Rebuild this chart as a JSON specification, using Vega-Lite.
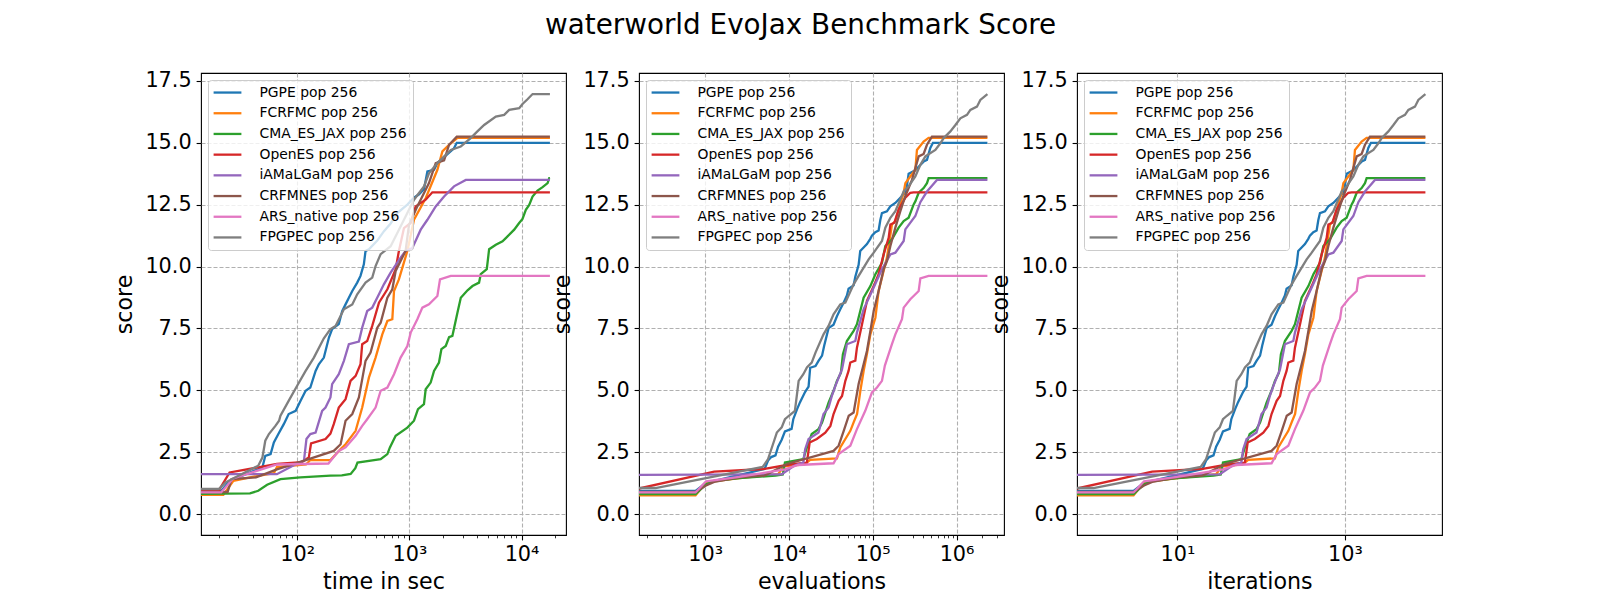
{
"$schema": "https://vega.github.io/schema/vega-lite/v6.json",
"background": "white",
"padding": {"left": 112, "top": 11, "right": 10, "bottom": 5},
"title": {"text": "waterworld EvoJax Benchmark Score", "font": "DejaVu Sans", "fontSize": 27.8, "fontWeight": "normal", "color": "black", "anchor": "start", "frame": "group", "dx": 344, "offset": 30},
"spacing": 73,
"bounds": "flush",
"resolve": {"scale": {"color": "independent"}, "legend": {"color": "independent"}},
"config": {
  "font": "DejaVu Sans",
  "view": {"stroke": "black", "strokeWidth": 1.1},
  "axis": {"domain": false, "labelFont": "DejaVu Sans", "labelFontSize": 20.8, "labelColor": "black", "titleFont": "DejaVu Sans", "titleFontSize": 22.2, "titleFontWeight": "normal", "titleColor": "black", "tickColor": "black", "tickWidth": 1.1, "tickSize": 4.9, "labelPadding": 4.9, "gridColor": "#b0b0b0", "gridDash": [4, 2], "gridWidth": 1.1, "grid": true, "labelOverlap": false, "labelFlush": false, "titlePadding": 6},
  "legend": {"orient": "top-left", "offset": 6.5, "symbolType": "M-2.78,0H2.78", "symbolSize": 100, "symbolOffset": 6.95, "symbolStrokeWidth": 2.3, "labelFont": "DejaVu Sans", "labelFontSize": 13.9, "labelColor": "black", "labelOffset": 25, "rowPadding": 5.7, "padding": 5.6, "fillColor": "rgba(255,255,255,0.8)", "strokeColor": "#cccccc", "cornerRadius": 3, "labelLimit": 400}
},
"datasets": {
"times": [
{"algo":"PGPE pop 256","time":10,"score":0.93},{"algo":"PGPE pop 256","time":21,"score":0.93},{"algo":"PGPE pop 256","time":25,"score":1.34},{"algo":"PGPE pop 256","time":49,"score":1.88},{"algo":"PGPE pop 256","time":52,"score":2.35},{"algo":"PGPE pop 256","time":58,"score":2.42},{"algo":"PGPE pop 256","time":62,"score":2.89},{"algo":"PGPE pop 256","time":68,"score":3.23},{"algo":"PGPE pop 256","time":76,"score":3.63},{"algo":"PGPE pop 256","time":84,"score":4.04},{"algo":"PGPE pop 256","time":97,"score":4.17},{"algo":"PGPE pop 256","time":107,"score":4.57},{"algo":"PGPE pop 256","time":119,"score":4.98},{"algo":"PGPE pop 256","time":131,"score":5.11},{"algo":"PGPE pop 256","time":146,"score":5.78},{"algo":"PGPE pop 256","time":156,"score":6.05},{"algo":"PGPE pop 256","time":173,"score":6.32},{"algo":"PGPE pop 256","time":192,"score":7.13},{"algo":"PGPE pop 256","time":205,"score":7.47},{"algo":"PGPE pop 256","time":235,"score":7.67},{"algo":"PGPE pop 256","time":252,"score":8.2},{"algo":"PGPE pop 256","time":270,"score":8.47},{"algo":"PGPE pop 256","time":289,"score":8.74},{"algo":"PGPE pop 256","time":310,"score":9.01},{"algo":"PGPE pop 256","time":343,"score":9.35},{"algo":"PGPE pop 256","time":367,"score":9.62},{"algo":"PGPE pop 256","time":393,"score":10.09},{"algo":"PGPE pop 256","time":407,"score":10.63},{"algo":"PGPE pop 256","time":436,"score":10.7},{"algo":"PGPE pop 256","time":518,"score":11.05},{"algo":"PGPE pop 256","time":594,"score":11.43},{"algo":"PGPE pop 256","time":681,"score":11.74},{"algo":"PGPE pop 256","time":781,"score":12.16},{"algo":"PGPE pop 256","time":960,"score":12.5},{"algo":"PGPE pop 256","time":1101,"score":12.78},{"algo":"PGPE pop 256","time":1220,"score":12.92},{"algo":"PGPE pop 256","time":1352,"score":13.13},{"algo":"PGPE pop 256","time":1448,"score":13.84},{"algo":"PGPE pop 256","time":1660,"score":13.91},{"algo":"PGPE pop 256","time":1778,"score":14.18},{"algo":"PGPE pop 256","time":2500,"score":14.78},{"algo":"PGPE pop 256","time":2645,"score":15.0},{"algo":"PGPE pop 256","time":17900,"score":15.0},
{"algo":"FCRFMC pop 256","time":10,"score":0.77},{"algo":"FCRFMC pop 256","time":22,"score":0.77},{"algo":"FCRFMC pop 256","time":27,"score":1.34},{"algo":"FCRFMC pop 256","time":40,"score":1.5},{"algo":"FCRFMC pop 256","time":62,"score":1.65},{"algo":"FCRFMC pop 256","time":66,"score":1.9},{"algo":"FCRFMC pop 256","time":120,"score":2.0},{"algo":"FCRFMC pop 256","time":131,"score":2.18},{"algo":"FCRFMC pop 256","time":198,"score":2.18},{"algo":"FCRFMC pop 256","time":244,"score":2.62},{"algo":"FCRFMC pop 256","time":270,"score":2.82},{"algo":"FCRFMC pop 256","time":332,"score":3.36},{"algo":"FCRFMC pop 256","time":380,"score":4.3},{"algo":"FCRFMC pop 256","time":436,"score":5.51},{"algo":"FCRFMC pop 256","time":500,"score":6.32},{"algo":"FCRFMC pop 256","time":574,"score":7.26},{"algo":"FCRFMC pop 256","time":637,"score":7.8},{"algo":"FCRFMC pop 256","time":705,"score":7.87},{"algo":"FCRFMC pop 256","time":730,"score":9.01},{"algo":"FCRFMC pop 256","time":807,"score":9.48},{"algo":"FCRFMC pop 256","time":960,"score":10.63},{"algo":"FCRFMC pop 256","time":1100,"score":11.89},{"algo":"FCRFMC pop 256","time":1398,"score":12.76},{"algo":"FCRFMC pop 256","time":1778,"score":13.91},{"algo":"FCRFMC pop 256","time":1970,"score":14.65},{"algo":"FCRFMC pop 256","time":2260,"score":14.92},{"algo":"FCRFMC pop 256","time":2685,"score":15.2},{"algo":"FCRFMC pop 256","time":17900,"score":15.2},
{"algo":"CMA_ES_JAX pop 256","time":10,"score":0.81},{"algo":"CMA_ES_JAX pop 256","time":38,"score":0.83},{"algo":"CMA_ES_JAX pop 256","time":45,"score":0.94},{"algo":"CMA_ES_JAX pop 256","time":54,"score":1.18},{"algo":"CMA_ES_JAX pop 256","time":71,"score":1.41},{"algo":"CMA_ES_JAX pop 256","time":107,"score":1.48},{"algo":"CMA_ES_JAX pop 256","time":198,"score":1.55},{"algo":"CMA_ES_JAX pop 256","time":250,"score":1.56},{"algo":"CMA_ES_JAX pop 256","time":300,"score":1.62},{"algo":"CMA_ES_JAX pop 256","time":330,"score":1.85},{"algo":"CMA_ES_JAX pop 256","time":345,"score":2.08},{"algo":"CMA_ES_JAX pop 256","time":520,"score":2.2},{"algo":"CMA_ES_JAX pop 256","time":555,"score":2.22},{"algo":"CMA_ES_JAX pop 256","time":637,"score":2.42},{"algo":"CMA_ES_JAX pop 256","time":671,"score":2.69},{"algo":"CMA_ES_JAX pop 256","time":755,"score":3.16},{"algo":"CMA_ES_JAX pop 256","time":960,"score":3.49},{"algo":"CMA_ES_JAX pop 256","time":1100,"score":3.77},{"algo":"CMA_ES_JAX pop 256","time":1194,"score":4.24},{"algo":"CMA_ES_JAX pop 256","time":1350,"score":4.44},{"algo":"CMA_ES_JAX pop 256","time":1398,"score":5.04},{"algo":"CMA_ES_JAX pop 256","time":1549,"score":5.31},{"algo":"CMA_ES_JAX pop 256","time":1660,"score":5.78},{"algo":"CMA_ES_JAX pop 256","time":1837,"score":6.12},{"algo":"CMA_ES_JAX pop 256","time":1930,"score":6.66},{"algo":"CMA_ES_JAX pop 256","time":2110,"score":6.79},{"algo":"CMA_ES_JAX pop 256","time":2260,"score":7.15},{"algo":"CMA_ES_JAX pop 256","time":2420,"score":7.2},{"algo":"CMA_ES_JAX pop 256","time":2685,"score":8.14},{"algo":"CMA_ES_JAX pop 256","time":2874,"score":8.74},{"algo":"CMA_ES_JAX pop 256","time":3300,"score":9.04},{"algo":"CMA_ES_JAX pop 256","time":3653,"score":9.21},{"algo":"CMA_ES_JAX pop 256","time":4180,"score":9.35},{"algo":"CMA_ES_JAX pop 256","time":4330,"score":9.69},{"algo":"CMA_ES_JAX pop 256","time":4900,"score":9.89},{"algo":"CMA_ES_JAX pop 256","time":5140,"score":10.7},{"algo":"CMA_ES_JAX pop 256","time":5900,"score":10.88},{"algo":"CMA_ES_JAX pop 256","time":6770,"score":11.02},{"algo":"CMA_ES_JAX pop 256","time":7240,"score":11.15},{"algo":"CMA_ES_JAX pop 256","time":8600,"score":11.49},{"algo":"CMA_ES_JAX pop 256","time":9520,"score":11.76},{"algo":"CMA_ES_JAX pop 256","time":10200,"score":11.92},{"algo":"CMA_ES_JAX pop 256","time":10920,"score":12.29},{"algo":"CMA_ES_JAX pop 256","time":11700,"score":12.49},{"algo":"CMA_ES_JAX pop 256","time":12530,"score":12.83},{"algo":"CMA_ES_JAX pop 256","time":13890,"score":13.07},{"algo":"CMA_ES_JAX pop 256","time":15400,"score":13.21},{"algo":"CMA_ES_JAX pop 256","time":17070,"score":13.37},{"algo":"CMA_ES_JAX pop 256","time":17650,"score":13.57},{"algo":"CMA_ES_JAX pop 256","time":17900,"score":13.57},
{"algo":"OpenES pop 256","time":10,"score":0.95},{"algo":"OpenES pop 256","time":20,"score":0.95},{"algo":"OpenES pop 256","time":25,"score":1.68},{"algo":"OpenES pop 256","time":66,"score":2.02},{"algo":"OpenES pop 256","time":110,"score":2.1},{"algo":"OpenES pop 256","time":127,"score":2.28},{"algo":"OpenES pop 256","time":133,"score":2.85},{"algo":"OpenES pop 256","time":179,"score":3.03},{"algo":"OpenES pop 256","time":198,"score":3.25},{"algo":"OpenES pop 256","time":212,"score":3.63},{"algo":"OpenES pop 256","time":235,"score":4.3},{"algo":"OpenES pop 256","time":270,"score":4.64},{"algo":"OpenES pop 256","time":299,"score":5.38},{"algo":"OpenES pop 256","time":332,"score":5.58},{"algo":"OpenES pop 256","time":367,"score":6.05},{"algo":"OpenES pop 256","time":380,"score":6.86},{"algo":"OpenES pop 256","time":421,"score":6.99},{"algo":"OpenES pop 256","time":467,"score":7.6},{"algo":"OpenES pop 256","time":536,"score":8.54},{"algo":"OpenES pop 256","time":637,"score":9.08},{"algo":"OpenES pop 256","time":755,"score":9.89},{"algo":"OpenES pop 256","time":807,"score":10.63},{"algo":"OpenES pop 256","time":895,"score":11.55},{"algo":"OpenES pop 256","time":1028,"score":11.76},{"algo":"OpenES pop 256","time":1138,"score":12.43},{"algo":"OpenES pop 256","time":1398,"score":12.7},{"algo":"OpenES pop 256","time":1603,"score":13.0},{"algo":"OpenES pop 256","time":17900,"score":13.0},
{"algo":"iAMaLGaM pop 256","time":10,"score":1.61},{"algo":"iAMaLGaM pop 256","time":66,"score":1.61},{"algo":"iAMaLGaM pop 256","time":100,"score":2.04},{"algo":"iAMaLGaM pop 256","time":115,"score":2.15},{"algo":"iAMaLGaM pop 256","time":121,"score":3.03},{"algo":"iAMaLGaM pop 256","time":131,"score":3.23},{"algo":"iAMaLGaM pop 256","time":146,"score":3.29},{"algo":"iAMaLGaM pop 256","time":167,"score":4.17},{"algo":"iAMaLGaM pop 256","time":179,"score":4.3},{"algo":"iAMaLGaM pop 256","time":198,"score":4.71},{"algo":"iAMaLGaM pop 256","time":205,"score":5.25},{"algo":"iAMaLGaM pop 256","time":235,"score":5.65},{"algo":"iAMaLGaM pop 256","time":261,"score":6.19},{"algo":"iAMaLGaM pop 256","time":289,"score":6.86},{"algo":"iAMaLGaM pop 256","time":355,"score":6.97},{"algo":"iAMaLGaM pop 256","time":380,"score":7.53},{"algo":"iAMaLGaM pop 256","time":421,"score":8.2},{"algo":"iAMaLGaM pop 256","time":467,"score":8.34},{"algo":"iAMaLGaM pop 256","time":536,"score":8.88},{"algo":"iAMaLGaM pop 256","time":593,"score":9.28},{"algo":"iAMaLGaM pop 256","time":681,"score":9.75},{"algo":"iAMaLGaM pop 256","time":836,"score":10.36},{"algo":"iAMaLGaM pop 256","time":926,"score":10.63},{"algo":"iAMaLGaM pop 256","time":1064,"score":10.75},{"algo":"iAMaLGaM pop 256","time":1262,"score":11.49},{"algo":"iAMaLGaM pop 256","time":1448,"score":11.89},{"algo":"iAMaLGaM pop 256","time":1718,"score":12.43},{"algo":"iAMaLGaM pop 256","time":2040,"score":12.83},{"algo":"iAMaLGaM pop 256","time":2500,"score":13.24},{"algo":"iAMaLGaM pop 256","time":3185,"score":13.5},{"algo":"iAMaLGaM pop 256","time":17900,"score":13.5},
{"algo":"CRFMNES pop 256","time":10,"score":0.89},{"algo":"CRFMNES pop 256","time":24,"score":0.89},{"algo":"CRFMNES pop 256","time":26,"score":1.41},{"algo":"CRFMNES pop 256","time":43,"score":1.48},{"algo":"CRFMNES pop 256","time":66,"score":1.8},{"algo":"CRFMNES pop 256","time":127,"score":2.22},{"algo":"CRFMNES pop 256","time":212,"score":2.55},{"algo":"CRFMNES pop 256","time":244,"score":2.82},{"algo":"CRFMNES pop 256","time":270,"score":3.77},{"algo":"CRFMNES pop 256","time":310,"score":4.04},{"algo":"CRFMNES pop 256","time":355,"score":4.71},{"algo":"CRFMNES pop 256","time":407,"score":6.19},{"algo":"CRFMNES pop 256","time":451,"score":6.52},{"algo":"CRFMNES pop 256","time":518,"score":7.53},{"algo":"CRFMNES pop 256","time":555,"score":7.73},{"algo":"CRFMNES pop 256","time":637,"score":8.74},{"algo":"CRFMNES pop 256","time":705,"score":9.08},{"algo":"CRFMNES pop 256","time":755,"score":9.82},{"algo":"CRFMNES pop 256","time":926,"score":10.63},{"algo":"CRFMNES pop 256","time":993,"score":11.69},{"algo":"CRFMNES pop 256","time":1178,"score":12.43},{"algo":"CRFMNES pop 256","time":1496,"score":13.37},{"algo":"CRFMNES pop 256","time":1718,"score":14.18},{"algo":"CRFMNES pop 256","time":2040,"score":14.29},{"algo":"CRFMNES pop 256","time":2260,"score":14.92},{"algo":"CRFMNES pop 256","time":2645,"score":15.25},{"algo":"CRFMNES pop 256","time":17900,"score":15.25},
{"algo":"ARS_native pop 256","time":10,"score":0.87},{"algo":"ARS_native pop 256","time":21,"score":0.87},{"algo":"ARS_native pop 256","time":27,"score":1.44},{"algo":"ARS_native pop 256","time":66,"score":2.0},{"algo":"ARS_native pop 256","time":190,"score":2.04},{"algo":"ARS_native pop 256","time":235,"score":2.55},{"algo":"ARS_native pop 256","time":270,"score":2.69},{"algo":"ARS_native pop 256","time":332,"score":3.16},{"algo":"ARS_native pop 256","time":380,"score":3.56},{"algo":"ARS_native pop 256","time":421,"score":3.83},{"algo":"ARS_native pop 256","time":500,"score":4.3},{"algo":"ARS_native pop 256","time":555,"score":4.98},{"algo":"ARS_native pop 256","time":637,"score":5.11},{"algo":"ARS_native pop 256","time":730,"score":5.65},{"algo":"ARS_native pop 256","time":836,"score":6.32},{"algo":"ARS_native pop 256","time":960,"score":6.79},{"algo":"ARS_native pop 256","time":1028,"score":7.33},{"algo":"ARS_native pop 256","time":1178,"score":7.87},{"algo":"ARS_native pop 256","time":1306,"score":8.34},{"algo":"ARS_native pop 256","time":1496,"score":8.47},{"algo":"ARS_native pop 256","time":1778,"score":8.81},{"algo":"ARS_native pop 256","time":1876,"score":9.48},{"algo":"ARS_native pop 256","time":2340,"score":9.62},{"algo":"ARS_native pop 256","time":17900,"score":9.62},
{"algo":"FPGPEC pop 256","time":10,"score":1.01},{"algo":"FPGPEC pop 256","time":20,"score":1.01},{"algo":"FPGPEC pop 256","time":23,"score":1.28},{"algo":"FPGPEC pop 256","time":45,"score":1.95},{"algo":"FPGPEC pop 256","time":49,"score":2.28},{"algo":"FPGPEC pop 256","time":52,"score":2.96},{"algo":"FPGPEC pop 256","time":56,"score":3.23},{"algo":"FPGPEC pop 256","time":64,"score":3.56},{"algo":"FPGPEC pop 256","time":69,"score":3.77},{"algo":"FPGPEC pop 256","time":71,"score":3.97},{"algo":"FPGPEC pop 256","time":84,"score":4.57},{"algo":"FPGPEC pop 256","time":100,"score":5.18},{"algo":"FPGPEC pop 256","time":119,"score":5.78},{"algo":"FPGPEC pop 256","time":141,"score":6.32},{"algo":"FPGPEC pop 256","time":173,"score":7.1},{"algo":"FPGPEC pop 256","time":198,"score":7.47},{"algo":"FPGPEC pop 256","time":220,"score":7.6},{"algo":"FPGPEC pop 256","time":261,"score":8.27},{"algo":"FPGPEC pop 256","time":310,"score":8.47},{"algo":"FPGPEC pop 256","time":343,"score":8.88},{"algo":"FPGPEC pop 256","time":407,"score":9.35},{"algo":"FPGPEC pop 256","time":467,"score":9.55},{"algo":"FPGPEC pop 256","time":500,"score":10.02},{"algo":"FPGPEC pop 256","time":555,"score":10.5},{"algo":"FPGPEC pop 256","time":681,"score":10.82},{"algo":"FPGPEC pop 256","time":895,"score":11.89},{"algo":"FPGPEC pop 256","time":1100,"score":12.7},{"algo":"FPGPEC pop 256","time":1350,"score":13.24},{"algo":"FPGPEC pop 256","time":1496,"score":13.77},{"algo":"FPGPEC pop 256","time":1778,"score":14.18},{"algo":"FPGPEC pop 256","time":2340,"score":14.71},{"algo":"FPGPEC pop 256","time":2874,"score":14.85},{"algo":"FPGPEC pop 256","time":3520,"score":15.19},{"algo":"FPGPEC pop 256","time":4040,"score":15.46},{"algo":"FPGPEC pop 256","time":4640,"score":15.72},{"algo":"FPGPEC pop 256","time":5900,"score":16.06},{"algo":"FPGPEC pop 256","time":7000,"score":16.13},{"algo":"FPGPEC pop 256","time":7760,"score":16.33},{"algo":"FPGPEC pop 256","time":9530,"score":16.4},{"algo":"FPGPEC pop 256","time":10200,"score":16.57},{"algo":"FPGPEC pop 256","time":11300,"score":16.76},{"algo":"FPGPEC pop 256","time":12540,"score":16.97},{"algo":"FPGPEC pop 256","time":17900,"score":16.97}
],
"iters": [
{"algo":"PGPE pop 256","iteration":0.5,"evaluations":128,"score":0.93},{"algo":"PGPE pop 256","iteration":3,"evaluations":768,"score":0.93},{"algo":"PGPE pop 256","iteration":4,"evaluations":1024,"score":1.26},{"algo":"PGPE pop 256","iteration":9,"evaluations":2304,"score":1.54},{"algo":"PGPE pop 256","iteration":20,"evaluations":5120,"score":1.82},{"algo":"PGPE pop 256","iteration":22,"evaluations":5632,"score":2.16},{"algo":"PGPE pop 256","iteration":24,"evaluations":6144,"score":2.3},{"algo":"PGPE pop 256","iteration":27,"evaluations":6912,"score":2.37},{"algo":"PGPE pop 256","iteration":29,"evaluations":7424,"score":2.72},{"algo":"PGPE pop 256","iteration":32,"evaluations":8192,"score":3.0},{"algo":"PGPE pop 256","iteration":35,"evaluations":8960,"score":3.34},{"algo":"PGPE pop 256","iteration":42,"evaluations":10752,"score":3.44},{"algo":"PGPE pop 256","iteration":44,"evaluations":11264,"score":3.83},{"algo":"PGPE pop 256","iteration":49,"evaluations":12544,"score":4.25},{"algo":"PGPE pop 256","iteration":53,"evaluations":13568,"score":4.52},{"algo":"PGPE pop 256","iteration":61,"evaluations":15616,"score":4.94},{"algo":"PGPE pop 256","iteration":67,"evaluations":17152,"score":5.15},{"algo":"PGPE pop 256","iteration":70,"evaluations":17920,"score":5.91},{"algo":"PGPE pop 256","iteration":81,"evaluations":20736,"score":5.98},{"algo":"PGPE pop 256","iteration":88,"evaluations":22528,"score":6.19},{"algo":"PGPE pop 256","iteration":97,"evaluations":24832,"score":6.4},{"algo":"PGPE pop 256","iteration":103,"evaluations":26368,"score":6.81},{"algo":"PGPE pop 256","iteration":116,"evaluations":29696,"score":7.51},{"algo":"PGPE pop 256","iteration":133,"evaluations":34048,"score":7.65},{"algo":"PGPE pop 256","iteration":146,"evaluations":37376,"score":7.99},{"algo":"PGPE pop 256","iteration":160,"evaluations":40960,"score":8.27},{"algo":"PGPE pop 256","iteration":176,"evaluations":45056,"score":8.55},{"algo":"PGPE pop 256","iteration":192,"evaluations":49152,"score":8.83},{"algo":"PGPE pop 256","iteration":201,"evaluations":51456,"score":9.1},{"algo":"PGPE pop 256","iteration":231,"evaluations":59136,"score":9.24},{"algo":"PGPE pop 256","iteration":242,"evaluations":61952,"score":9.59},{"algo":"PGPE pop 256","iteration":265,"evaluations":67840,"score":10.07},{"algo":"PGPE pop 256","iteration":277,"evaluations":70912,"score":10.63},{"algo":"PGPE pop 256","iteration":304,"evaluations":77824,"score":10.77},{"algo":"PGPE pop 256","iteration":333,"evaluations":85248,"score":10.91},{"algo":"PGPE pop 256","iteration":365,"evaluations":93440,"score":11.12},{"algo":"PGPE pop 256","iteration":382,"evaluations":97792,"score":11.25},{"algo":"PGPE pop 256","iteration":419,"evaluations":107264,"score":11.39},{"algo":"PGPE pop 256","iteration":459,"evaluations":117504,"score":11.46},{"algo":"PGPE pop 256","iteration":481,"evaluations":123136,"score":11.88},{"algo":"PGPE pop 256","iteration":503,"evaluations":128768,"score":12.16},{"algo":"PGPE pop 256","iteration":577,"evaluations":147712,"score":12.23},{"algo":"PGPE pop 256","iteration":633,"evaluations":162048,"score":12.43},{"algo":"PGPE pop 256","iteration":726,"evaluations":185856,"score":12.57},{"algo":"PGPE pop 256","iteration":796,"evaluations":203776,"score":12.71},{"algo":"PGPE pop 256","iteration":872,"evaluations":223232,"score":12.85},{"algo":"PGPE pop 256","iteration":955,"evaluations":244480,"score":12.99},{"algo":"PGPE pop 256","iteration":1000,"evaluations":256000,"score":13.27},{"algo":"PGPE pop 256","iteration":1047,"evaluations":268032,"score":13.75},{"algo":"PGPE pop 256","iteration":1148,"evaluations":293888,"score":13.82},{"algo":"PGPE pop 256","iteration":1257,"evaluations":321792,"score":13.89},{"algo":"PGPE pop 256","iteration":1443,"evaluations":369408,"score":14.1},{"algo":"PGPE pop 256","iteration":1581,"evaluations":404736,"score":14.24},{"algo":"PGPE pop 256","iteration":1733,"evaluations":443648,"score":14.31},{"algo":"PGPE pop 256","iteration":1899,"evaluations":486144,"score":14.79},{"algo":"PGPE pop 256","iteration":2042,"evaluations":522752,"score":15.0},{"algo":"PGPE pop 256","iteration":9120,"evaluations":2334720,"score":15.0},
{"algo":"FCRFMC pop 256","iteration":0.5,"evaluations":128,"score":0.75},{"algo":"FCRFMC pop 256","iteration":3,"evaluations":768,"score":0.75},{"algo":"FCRFMC pop 256","iteration":4,"evaluations":1024,"score":1.28},{"algo":"FCRFMC pop 256","iteration":10,"evaluations":2560,"score":1.45},{"algo":"FCRFMC pop 256","iteration":20,"evaluations":5120,"score":1.55},{"algo":"FCRFMC pop 256","iteration":29,"evaluations":7424,"score":1.61},{"algo":"FCRFMC pop 256","iteration":34,"evaluations":8704,"score":1.93},{"algo":"FCRFMC pop 256","iteration":60,"evaluations":15360,"score":2.0},{"algo":"FCRFMC pop 256","iteration":70,"evaluations":17920,"score":2.19},{"algo":"FCRFMC pop 256","iteration":146,"evaluations":37376,"score":2.25},{"algo":"FCRFMC pop 256","iteration":160,"evaluations":40960,"score":2.69},{"algo":"FCRFMC pop 256","iteration":184,"evaluations":47104,"score":3.03},{"algo":"FCRFMC pop 256","iteration":211,"evaluations":54016,"score":3.36},{"algo":"FCRFMC pop 256","iteration":231,"evaluations":59136,"score":3.7},{"algo":"FCRFMC pop 256","iteration":254,"evaluations":65024,"score":4.04},{"algo":"FCRFMC pop 256","iteration":278,"evaluations":71168,"score":4.98},{"algo":"FCRFMC pop 256","iteration":304,"evaluations":77824,"score":5.78},{"algo":"FCRFMC pop 256","iteration":333,"evaluations":85248,"score":6.46},{"algo":"FCRFMC pop 256","iteration":366,"evaluations":93696,"score":7.26},{"algo":"FCRFMC pop 256","iteration":420,"evaluations":107520,"score":7.93},{"algo":"FCRFMC pop 256","iteration":459,"evaluations":117504,"score":9.01},{"algo":"FCRFMC pop 256","iteration":577,"evaluations":147712,"score":10.36},{"algo":"FCRFMC pop 256","iteration":662,"evaluations":169472,"score":11.7},{"algo":"FCRFMC pop 256","iteration":726,"evaluations":185856,"score":11.84},{"algo":"FCRFMC pop 256","iteration":913,"evaluations":233728,"score":12.98},{"algo":"FCRFMC pop 256","iteration":957,"evaluations":244992,"score":13.37},{"algo":"FCRFMC pop 256","iteration":1097,"evaluations":280832,"score":13.64},{"algo":"FCRFMC pop 256","iteration":1259,"evaluations":322304,"score":13.91},{"algo":"FCRFMC pop 256","iteration":1316,"evaluations":336896,"score":14.71},{"algo":"FCRFMC pop 256","iteration":1581,"evaluations":404736,"score":15.05},{"algo":"FCRFMC pop 256","iteration":1815,"evaluations":464640,"score":15.2},{"algo":"FCRFMC pop 256","iteration":9120,"evaluations":2334720,"score":15.2},
{"algo":"CMA_ES_JAX pop 256","iteration":0.5,"evaluations":128,"score":0.8},{"algo":"CMA_ES_JAX pop 256","iteration":3,"evaluations":768,"score":0.8},{"algo":"CMA_ES_JAX pop 256","iteration":4,"evaluations":1024,"score":1.2},{"algo":"CMA_ES_JAX pop 256","iteration":5,"evaluations":1280,"score":1.34},{"algo":"CMA_ES_JAX pop 256","iteration":10,"evaluations":2560,"score":1.45},{"algo":"CMA_ES_JAX pop 256","iteration":27,"evaluations":6912,"score":1.55},{"algo":"CMA_ES_JAX pop 256","iteration":33,"evaluations":8448,"score":1.6},{"algo":"CMA_ES_JAX pop 256","iteration":35,"evaluations":8960,"score":2.08},{"algo":"CMA_ES_JAX pop 256","iteration":58,"evaluations":14848,"score":2.22},{"algo":"CMA_ES_JAX pop 256","iteration":64,"evaluations":16384,"score":2.69},{"algo":"CMA_ES_JAX pop 256","iteration":73,"evaluations":18688,"score":3.23},{"algo":"CMA_ES_JAX pop 256","iteration":88,"evaluations":22528,"score":3.43},{"algo":"CMA_ES_JAX pop 256","iteration":97,"evaluations":24832,"score":3.7},{"algo":"CMA_ES_JAX pop 256","iteration":106,"evaluations":27136,"score":4.1},{"algo":"CMA_ES_JAX pop 256","iteration":116,"evaluations":29696,"score":4.5},{"algo":"CMA_ES_JAX pop 256","iteration":133,"evaluations":34048,"score":4.98},{"algo":"CMA_ES_JAX pop 256","iteration":146,"evaluations":37376,"score":5.38},{"algo":"CMA_ES_JAX pop 256","iteration":163,"evaluations":41728,"score":5.71},{"algo":"CMA_ES_JAX pop 256","iteration":172,"evaluations":44032,"score":6.46},{"algo":"CMA_ES_JAX pop 256","iteration":192,"evaluations":49152,"score":6.99},{"algo":"CMA_ES_JAX pop 256","iteration":231,"evaluations":59136,"score":7.4},{"algo":"CMA_ES_JAX pop 256","iteration":253,"evaluations":64768,"score":7.67},{"algo":"CMA_ES_JAX pop 256","iteration":304,"evaluations":77824,"score":8.74},{"algo":"CMA_ES_JAX pop 256","iteration":366,"evaluations":93696,"score":9.21},{"algo":"CMA_ES_JAX pop 256","iteration":420,"evaluations":107520,"score":9.69},{"algo":"CMA_ES_JAX pop 256","iteration":503,"evaluations":128768,"score":10.15},{"algo":"CMA_ES_JAX pop 256","iteration":552,"evaluations":141312,"score":10.83},{"algo":"CMA_ES_JAX pop 256","iteration":662,"evaluations":169472,"score":11.1},{"algo":"CMA_ES_JAX pop 256","iteration":796,"evaluations":203776,"score":11.57},{"algo":"CMA_ES_JAX pop 256","iteration":914,"evaluations":233984,"score":11.84},{"algo":"CMA_ES_JAX pop 256","iteration":1047,"evaluations":268032,"score":11.97},{"algo":"CMA_ES_JAX pop 256","iteration":1202,"evaluations":307712,"score":12.51},{"algo":"CMA_ES_JAX pop 256","iteration":1259,"evaluations":322304,"score":12.63},{"algo":"CMA_ES_JAX pop 256","iteration":1380,"evaluations":353280,"score":12.98},{"algo":"CMA_ES_JAX pop 256","iteration":1581,"evaluations":404736,"score":13.17},{"algo":"CMA_ES_JAX pop 256","iteration":1733,"evaluations":443648,"score":13.37},{"algo":"CMA_ES_JAX pop 256","iteration":1815,"evaluations":464640,"score":13.57},{"algo":"CMA_ES_JAX pop 256","iteration":9120,"evaluations":2334720,"score":13.57},
{"algo":"OpenES pop 256","iteration":0.5,"evaluations":128,"score":0.95},{"algo":"OpenES pop 256","iteration":5,"evaluations":1280,"score":1.71},{"algo":"OpenES pop 256","iteration":20,"evaluations":5120,"score":1.82},{"algo":"OpenES pop 256","iteration":40,"evaluations":10240,"score":2.0},{"algo":"OpenES pop 256","iteration":64,"evaluations":16384,"score":2.08},{"algo":"OpenES pop 256","iteration":69,"evaluations":17664,"score":2.89},{"algo":"OpenES pop 256","iteration":84,"evaluations":21504,"score":3.03},{"algo":"OpenES pop 256","iteration":106,"evaluations":27136,"score":3.29},{"algo":"OpenES pop 256","iteration":122,"evaluations":31232,"score":3.56},{"algo":"OpenES pop 256","iteration":133,"evaluations":34048,"score":4.04},{"algo":"OpenES pop 256","iteration":153,"evaluations":39168,"score":4.57},{"algo":"OpenES pop 256","iteration":168,"evaluations":43008,"score":4.77},{"algo":"OpenES pop 256","iteration":184,"evaluations":47104,"score":5.38},{"algo":"OpenES pop 256","iteration":201,"evaluations":51456,"score":5.78},{"algo":"OpenES pop 256","iteration":211,"evaluations":54016,"score":6.12},{"algo":"OpenES pop 256","iteration":242,"evaluations":61952,"score":6.2},{"algo":"OpenES pop 256","iteration":253,"evaluations":64768,"score":6.72},{"algo":"OpenES pop 256","iteration":291,"evaluations":74496,"score":7.67},{"algo":"OpenES pop 256","iteration":333,"evaluations":85248,"score":8.61},{"algo":"OpenES pop 256","iteration":401,"evaluations":102656,"score":9.21},{"algo":"OpenES pop 256","iteration":459,"evaluations":117504,"score":9.69},{"algo":"OpenES pop 256","iteration":527,"evaluations":134912,"score":10.49},{"algo":"OpenES pop 256","iteration":605,"evaluations":154880,"score":11.16},{"algo":"OpenES pop 256","iteration":634,"evaluations":162304,"score":11.7},{"algo":"OpenES pop 256","iteration":708,"evaluations":181248,"score":11.77},{"algo":"OpenES pop 256","iteration":796,"evaluations":203776,"score":12.31},{"algo":"OpenES pop 256","iteration":957,"evaluations":244992,"score":12.78},{"algo":"OpenES pop 256","iteration":1097,"evaluations":280832,"score":12.98},{"algo":"OpenES pop 256","iteration":1202,"evaluations":307712,"score":13.0},{"algo":"OpenES pop 256","iteration":9120,"evaluations":2334720,"score":13.0},
{"algo":"iAMaLGaM pop 256","iteration":0.5,"evaluations":128,"score":1.58},{"algo":"iAMaLGaM pop 256","iteration":32,"evaluations":8192,"score":1.6},{"algo":"iAMaLGaM pop 256","iteration":45,"evaluations":11520,"score":1.95},{"algo":"iAMaLGaM pop 256","iteration":58,"evaluations":14848,"score":2.08},{"algo":"iAMaLGaM pop 256","iteration":61,"evaluations":15616,"score":2.62},{"algo":"iAMaLGaM pop 256","iteration":67,"evaluations":17152,"score":3.03},{"algo":"iAMaLGaM pop 256","iteration":88,"evaluations":22528,"score":3.29},{"algo":"iAMaLGaM pop 256","iteration":101,"evaluations":25856,"score":4.04},{"algo":"iAMaLGaM pop 256","iteration":116,"evaluations":29696,"score":4.3},{"algo":"iAMaLGaM pop 256","iteration":127,"evaluations":32512,"score":4.77},{"algo":"iAMaLGaM pop 256","iteration":140,"evaluations":35840,"score":5.18},{"algo":"iAMaLGaM pop 256","iteration":168,"evaluations":43008,"score":5.85},{"algo":"iAMaLGaM pop 256","iteration":192,"evaluations":49152,"score":6.86},{"algo":"iAMaLGaM pop 256","iteration":242,"evaluations":61952,"score":6.99},{"algo":"iAMaLGaM pop 256","iteration":253,"evaluations":64768,"score":7.33},{"algo":"iAMaLGaM pop 256","iteration":304,"evaluations":77824,"score":8.27},{"algo":"iAMaLGaM pop 256","iteration":401,"evaluations":102656,"score":9.15},{"algo":"iAMaLGaM pop 256","iteration":503,"evaluations":128768,"score":9.89},{"algo":"iAMaLGaM pop 256","iteration":634,"evaluations":162304,"score":10.49},{"algo":"iAMaLGaM pop 256","iteration":727,"evaluations":186112,"score":10.56},{"algo":"iAMaLGaM pop 256","iteration":914,"evaluations":233984,"score":11.03},{"algo":"iAMaLGaM pop 256","iteration":957,"evaluations":244992,"score":11.5},{"algo":"iAMaLGaM pop 256","iteration":1259,"evaluations":322304,"score":12.04},{"algo":"iAMaLGaM pop 256","iteration":1445,"evaluations":369920,"score":12.6},{"algo":"iAMaLGaM pop 256","iteration":1733,"evaluations":443648,"score":13.03},{"algo":"iAMaLGaM pop 256","iteration":1988,"evaluations":508928,"score":13.26},{"algo":"iAMaLGaM pop 256","iteration":2280,"evaluations":583680,"score":13.5},{"algo":"iAMaLGaM pop 256","iteration":9120,"evaluations":2334720,"score":13.5},
{"algo":"CRFMNES pop 256","iteration":0.5,"evaluations":128,"score":0.89},{"algo":"CRFMNES pop 256","iteration":3,"evaluations":768,"score":0.89},{"algo":"CRFMNES pop 256","iteration":4,"evaluations":1024,"score":1.15},{"algo":"CRFMNES pop 256","iteration":5,"evaluations":1280,"score":1.3},{"algo":"CRFMNES pop 256","iteration":10,"evaluations":2560,"score":1.48},{"algo":"CRFMNES pop 256","iteration":20,"evaluations":5120,"score":1.55},{"algo":"CRFMNES pop 256","iteration":37,"evaluations":9472,"score":2.02},{"algo":"CRFMNES pop 256","iteration":133,"evaluations":34048,"score":2.55},{"algo":"CRFMNES pop 256","iteration":153,"evaluations":39168,"score":2.76},{"algo":"CRFMNES pop 256","iteration":176,"evaluations":45056,"score":3.36},{"algo":"CRFMNES pop 256","iteration":202,"evaluations":51712,"score":3.97},{"algo":"CRFMNES pop 256","iteration":231,"evaluations":59136,"score":4.1},{"algo":"CRFMNES pop 256","iteration":265,"evaluations":67840,"score":5.25},{"algo":"CRFMNES pop 256","iteration":304,"evaluations":77824,"score":6.05},{"algo":"CRFMNES pop 256","iteration":333,"evaluations":85248,"score":6.59},{"algo":"CRFMNES pop 256","iteration":366,"evaluations":93696,"score":7.4},{"algo":"CRFMNES pop 256","iteration":401,"evaluations":102656,"score":8.2},{"algo":"CRFMNES pop 256","iteration":459,"evaluations":117504,"score":9.01},{"algo":"CRFMNES pop 256","iteration":527,"evaluations":134912,"score":9.89},{"algo":"CRFMNES pop 256","iteration":577,"evaluations":147712,"score":10.22},{"algo":"CRFMNES pop 256","iteration":634,"evaluations":162304,"score":10.83},{"algo":"CRFMNES pop 256","iteration":727,"evaluations":186112,"score":11.57},{"algo":"CRFMNES pop 256","iteration":834,"evaluations":213504,"score":12.24},{"algo":"CRFMNES pop 256","iteration":957,"evaluations":244992,"score":12.85},{"algo":"CRFMNES pop 256","iteration":1148,"evaluations":293888,"score":13.5},{"algo":"CRFMNES pop 256","iteration":1380,"evaluations":353280,"score":14.45},{"algo":"CRFMNES pop 256","iteration":1581,"evaluations":404736,"score":14.55},{"algo":"CRFMNES pop 256","iteration":1733,"evaluations":443648,"score":14.92},{"algo":"CRFMNES pop 256","iteration":1988,"evaluations":508928,"score":15.25},{"algo":"CRFMNES pop 256","iteration":9120,"evaluations":2334720,"score":15.25},
{"algo":"ARS_native pop 256","iteration":0.5,"evaluations":128,"score":0.87},{"algo":"ARS_native pop 256","iteration":3,"evaluations":768,"score":0.87},{"algo":"ARS_native pop 256","iteration":4,"evaluations":1024,"score":1.32},{"algo":"ARS_native pop 256","iteration":10,"evaluations":2560,"score":1.5},{"algo":"ARS_native pop 256","iteration":35,"evaluations":8960,"score":1.8},{"algo":"ARS_native pop 256","iteration":50,"evaluations":12800,"score":1.98},{"algo":"ARS_native pop 256","iteration":133,"evaluations":34048,"score":2.05},{"algo":"ARS_native pop 256","iteration":153,"evaluations":39168,"score":2.42},{"algo":"ARS_native pop 256","iteration":211,"evaluations":54016,"score":2.76},{"algo":"ARS_native pop 256","iteration":253,"evaluations":64768,"score":3.43},{"algo":"ARS_native pop 256","iteration":318,"evaluations":81408,"score":4.17},{"algo":"ARS_native pop 256","iteration":382,"evaluations":97792,"score":4.91},{"algo":"ARS_native pop 256","iteration":439,"evaluations":112384,"score":5.11},{"algo":"ARS_native pop 256","iteration":503,"evaluations":128768,"score":5.38},{"algo":"ARS_native pop 256","iteration":545,"evaluations":139520,"score":6.0},{"algo":"ARS_native pop 256","iteration":662,"evaluations":169472,"score":6.86},{"algo":"ARS_native pop 256","iteration":727,"evaluations":186112,"score":7.26},{"algo":"ARS_native pop 256","iteration":872,"evaluations":223232,"score":7.87},{"algo":"ARS_native pop 256","iteration":914,"evaluations":233984,"score":8.34},{"algo":"ARS_native pop 256","iteration":1097,"evaluations":280832,"score":8.68},{"algo":"ARS_native pop 256","iteration":1380,"evaluations":353280,"score":9.01},{"algo":"ARS_native pop 256","iteration":1445,"evaluations":369920,"score":9.52},{"algo":"ARS_native pop 256","iteration":1815,"evaluations":464640,"score":9.62},{"algo":"ARS_native pop 256","iteration":9120,"evaluations":2334720,"score":9.62},
{"algo":"FPGPEC pop 256","iteration":0.5,"evaluations":128,"score":1.05},{"algo":"FPGPEC pop 256","iteration":1,"evaluations":256,"score":1.05},{"algo":"FPGPEC pop 256","iteration":19,"evaluations":4864,"score":1.9},{"algo":"FPGPEC pop 256","iteration":22,"evaluations":5632,"score":2.22},{"algo":"FPGPEC pop 256","iteration":26,"evaluations":6656,"score":2.96},{"algo":"FPGPEC pop 256","iteration":28,"evaluations":7168,"score":3.29},{"algo":"FPGPEC pop 256","iteration":32,"evaluations":8192,"score":3.5},{"algo":"FPGPEC pop 256","iteration":35,"evaluations":8960,"score":3.83},{"algo":"FPGPEC pop 256","iteration":39,"evaluations":9984,"score":3.97},{"algo":"FPGPEC pop 256","iteration":46,"evaluations":11776,"score":4.17},{"algo":"FPGPEC pop 256","iteration":51,"evaluations":13056,"score":5.38},{"algo":"FPGPEC pop 256","iteration":58,"evaluations":14848,"score":5.65},{"algo":"FPGPEC pop 256","iteration":64,"evaluations":16384,"score":5.92},{"algo":"FPGPEC pop 256","iteration":73,"evaluations":18688,"score":6.12},{"algo":"FPGPEC pop 256","iteration":81,"evaluations":20736,"score":6.52},{"algo":"FPGPEC pop 256","iteration":101,"evaluations":25856,"score":7.26},{"algo":"FPGPEC pop 256","iteration":116,"evaluations":29696,"score":7.6},{"algo":"FPGPEC pop 256","iteration":133,"evaluations":34048,"score":8.07},{"algo":"FPGPEC pop 256","iteration":160,"evaluations":40960,"score":8.47},{"algo":"FPGPEC pop 256","iteration":184,"evaluations":47104,"score":8.54},{"algo":"FPGPEC pop 256","iteration":231,"evaluations":59136,"score":9.28},{"algo":"FPGPEC pop 256","iteration":265,"evaluations":67840,"score":9.62},{"algo":"FPGPEC pop 256","iteration":349,"evaluations":89344,"score":10.29},{"algo":"FPGPEC pop 256","iteration":401,"evaluations":102656,"score":10.56},{"algo":"FPGPEC pop 256","iteration":503,"evaluations":128768,"score":11.03},{"algo":"FPGPEC pop 256","iteration":552,"evaluations":141312,"score":11.57},{"algo":"FPGPEC pop 256","iteration":634,"evaluations":162304,"score":11.97},{"algo":"FPGPEC pop 256","iteration":727,"evaluations":186112,"score":12.24},{"algo":"FPGPEC pop 256","iteration":914,"evaluations":233984,"score":13.04},{"algo":"FPGPEC pop 256","iteration":1047,"evaluations":268032,"score":13.24},{"algo":"FPGPEC pop 256","iteration":1259,"evaluations":322304,"score":13.64},{"algo":"FPGPEC pop 256","iteration":1445,"evaluations":369920,"score":14.11},{"algo":"FPGPEC pop 256","iteration":1659,"evaluations":424704,"score":14.45},{"algo":"FPGPEC pop 256","iteration":2183,"evaluations":558848,"score":14.71},{"algo":"FPGPEC pop 256","iteration":2504,"evaluations":641024,"score":14.98},{"algo":"FPGPEC pop 256","iteration":2743,"evaluations":702208,"score":15.19},{"algo":"FPGPEC pop 256","iteration":3297,"evaluations":844032,"score":15.46},{"algo":"FPGPEC pop 256","iteration":3785,"evaluations":968960,"score":15.72},{"algo":"FPGPEC pop 256","iteration":4338,"evaluations":1110528,"score":15.99},{"algo":"FPGPEC pop 256","iteration":5203,"evaluations":1331968,"score":16.13},{"algo":"FPGPEC pop 256","iteration":5710,"evaluations":1461760,"score":16.33},{"algo":"FPGPEC pop 256","iteration":6843,"evaluations":1751808,"score":16.46},{"algo":"FPGPEC pop 256","iteration":7510,"evaluations":1922560,"score":16.73},{"algo":"FPGPEC pop 256","iteration":9120,"evaluations":2334720,"score":16.97}
]
},
"hconcat": [
{
 "width": 365, "height": 462,
 "data": {"name": "times"},
 "mark": {"type": "line", "strokeWidth": 2.3, "clip": true},
 "encoding": {
  "x": {"field": "time", "type": "quantitative", "scale": {"type": "log", "domain": [13.9, 24900], "nice": false},
   "axis": {"title": "time in sec", "values": [20,30,40,50,60,70,80,90,100,200,300,400,500,600,700,800,900,1000,2000,3000,4000,5000,6000,7000,8000,9000,10000,20000],
    "labelExpr": "datum.value == 100 ? '10²' : datum.value == 1000 ? '10³' : datum.value == 10000 ? '10⁴' : ''",
    "tickSize": {"condition": {"test": "datum.value == 100 || datum.value == 1000 || datum.value == 10000", "value": 4.9}, "value": 2.8},
    "tickWidth": {"condition": {"test": "datum.value == 100 || datum.value == 1000 || datum.value == 10000", "value": 1.1}, "value": 0.8},
    "gridOpacity": {"condition": {"test": "datum.value == 100 || datum.value == 1000 || datum.value == 10000", "value": 1}, "value": 0}}},
  "y": {"field": "score", "type": "quantitative", "scale": {"domain": [-0.8485, 17.82], "nice": false, "zero": false},
   "axis": {"title": "score", "values": [0,2.5,5,7.5,10,12.5,15,17.5], "format": ".1f", "titleX": -76.5, "titleY": 231, "titleAngle": 270, "titleAlign": "center", "titleBaseline": "middle"}},
  "color": {"field": "algo", "type": "nominal", "scale": {"domain": ["PGPE pop 256","FCRFMC pop 256","CMA_ES_JAX pop 256","OpenES pop 256","iAMaLGaM pop 256","CRFMNES pop 256","ARS_native pop 256","FPGPEC pop 256"], "range": ["#1f77b4","#ff7f0e","#2ca02c","#d62728","#9467bd","#8c564b","#e377c2","#7f7f7f"]}, "legend": {"title": null}}
 }
},
{
 "width": 365, "height": 462,
 "data": {"name": "iters"},
 "mark": {"type": "line", "strokeWidth": 2.3, "clip": true},
 "encoding": {
  "x": {"field": "evaluations", "type": "quantitative", "scale": {"type": "log", "domain": [162.4, 3684000], "nice": false},
   "axis": {"title": "evaluations", "values": [200,300,400,500,600,700,800,900,1000,2000,3000,4000,5000,6000,7000,8000,9000,10000,20000,30000,40000,50000,60000,70000,80000,90000,100000,200000,300000,400000,500000,600000,700000,800000,900000,1000000,2000000,3000000],
    "labelExpr": "datum.value == 1000 ? '10³' : datum.value == 10000 ? '10⁴' : datum.value == 100000 ? '10⁵' : datum.value == 1000000 ? '10⁶' : ''",
    "tickSize": {"condition": {"test": "datum.value == 1000 || datum.value == 10000 || datum.value == 100000 || datum.value == 1000000", "value": 4.9}, "value": 2.8},
    "tickWidth": {"condition": {"test": "datum.value == 1000 || datum.value == 10000 || datum.value == 100000 || datum.value == 1000000", "value": 1.1}, "value": 0.8},
    "gridOpacity": {"condition": {"test": "datum.value == 1000 || datum.value == 10000 || datum.value == 100000 || datum.value == 1000000", "value": 1}, "value": 0}}},
  "y": {"field": "score", "type": "quantitative", "scale": {"domain": [-0.8485, 17.82], "nice": false, "zero": false},
   "axis": {"title": "score", "values": [0,2.5,5,7.5,10,12.5,15,17.5], "format": ".1f", "titleX": -76.5, "titleY": 231, "titleAngle": 270, "titleAlign": "center", "titleBaseline": "middle"}},
  "color": {"field": "algo", "type": "nominal", "scale": {"domain": ["PGPE pop 256","FCRFMC pop 256","CMA_ES_JAX pop 256","OpenES pop 256","iAMaLGaM pop 256","CRFMNES pop 256","ARS_native pop 256","FPGPEC pop 256"], "range": ["#1f77b4","#ff7f0e","#2ca02c","#d62728","#9467bd","#8c564b","#e377c2","#7f7f7f"]}, "legend": {"title": null}}
 }
},
{
 "width": 365, "height": 462,
 "data": {"name": "iters"},
 "mark": {"type": "line", "strokeWidth": 2.3, "clip": true},
 "encoding": {
  "x": {"field": "iteration", "type": "quantitative", "scale": {"type": "log", "domain": [0.634, 14390], "nice": false},
   "axis": {"title": "iterations", "values": [10, 1000],
    "labelExpr": "datum.value == 10 ? '10¹' : datum.value == 1000 ? '10³' : ''"}},
  "y": {"field": "score", "type": "quantitative", "scale": {"domain": [-0.8485, 17.82], "nice": false, "zero": false},
   "axis": {"title": "score", "values": [0,2.5,5,7.5,10,12.5,15,17.5], "format": ".1f", "titleX": -76.5, "titleY": 231, "titleAngle": 270, "titleAlign": "center", "titleBaseline": "middle"}},
  "color": {"field": "algo", "type": "nominal", "scale": {"domain": ["PGPE pop 256","FCRFMC pop 256","CMA_ES_JAX pop 256","OpenES pop 256","iAMaLGaM pop 256","CRFMNES pop 256","ARS_native pop 256","FPGPEC pop 256"], "range": ["#1f77b4","#ff7f0e","#2ca02c","#d62728","#9467bd","#8c564b","#e377c2","#7f7f7f"]}, "legend": {"title": null}}
 }
}
]
}
